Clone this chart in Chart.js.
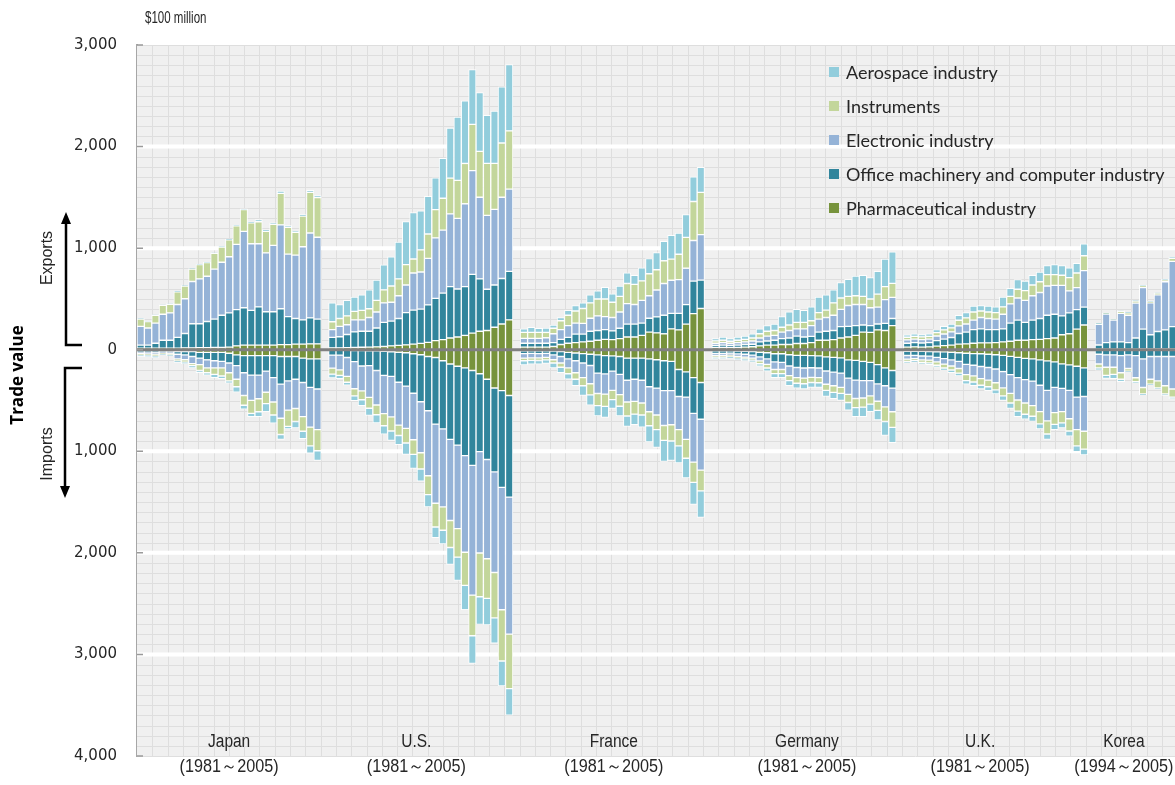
<!DOCTYPE html>
<html>
<head>
<meta charset="utf-8">
<script src="https://cdn.jsdelivr.net/npm/chart.js@4.4.1/dist/chart.umd.min.js"></script>
<style>
  html, body { margin: 0; padding: 0; background: #ffffff; overflow: hidden; }
  #wrap { width: 1175px; height: 785px; position: relative; }
</style>
</head>
<body>
<div id="wrap"><canvas id="c" width="1175" height="785"></canvas></div>
<script>
// ---------------- DATA (unit: $100 million) ----------------
const countries = ['Japan', 'U.S.', 'France', 'Germany', 'U.K.', 'Korea'];
const periods = ['(1981～2005)', '(1981～2005)', '(1981～2005)', '(1981～2005)', '(1981～2005)', '(1994～2005)'];
const seriesNames = ['Pharmaceutical industry', 'Office machinery and computer industry', 'Electronic industry', 'Instruments', 'Aerospace industry'];
const yTicks = [3000, 2000, 1000, 0, -1000, -2000, -3000, -4000];

// Exports, per country [Japan, U.S., France, Germany, U.K., Korea]
const expPharma = [
  [15,15,15,15,15,15,18,18,20,20,22,22,25,38,45,45,45,45,45,50,50,55,55,58,58],
  [18,18,20,22,24,26,28,32,38,42,48,55,62,72,90,99,115,125,141,163,182,189,221,253,294],
  [26,26,26,26,32,51,64,70,77,83,93,102,99,109,125,125,141,173,166,157,205,195,252,355,406],
  [22,22,22,22,26,29,38,45,45,51,51,61,61,70,93,93,99,115,125,141,173,170,195,189,237],
  [26,28,26,28,35,40,45,55,58,64,67,67,70,77,83,93,93,99,102,109,115,147,157,202,243],
  [6,6,6,6,6,6,8,8,8,8,8,10]
];
const expOffice = [
  [30,30,49,78,78,107,142,238,236,258,279,317,337,356,368,342,377,329,329,353,276,252,239,256,243],
  [104,110,130,154,158,156,186,237,244,265,317,335,338,370,416,458,506,473,480,579,516,406,416,448,477],
  [38,38,38,38,38,51,58,84,77,99,96,96,87,102,127,127,121,137,157,182,153,163,192,320,279],
  [20,23,20,23,25,25,39,41,48,58,64,73,64,61,80,89,90,112,105,96,70,67,58,70,70],
  [38,42,40,42,55,65,75,105,115,134,138,131,128,128,179,198,176,192,205,230,234,186,205,192,176],
  [40,64,71,71,64,109,194,139,171,187,219,240]
];
const expElec = [
  [185,169,198,256,269,323,342,416,442,445,493,522,553,643,752,656,621,580,653,826,615,624,720,835,806],
  [76,102,96,118,112,135,157,192,185,224,272,365,365,457,595,621,717,695,816,1021,803,727,745,800,810],
  [48,48,48,54,87,96,115,108,105,128,144,128,131,160,202,193,224,221,265,313,326,332,358,400,448],
  [22,25,22,25,26,32,38,48,48,64,74,71,80,106,128,135,150,170,205,208,202,176,166,234,208],
  [33,35,34,35,45,50,55,75,80,93,112,109,103,144,189,218,217,240,256,288,285,301,217,217,359],
  [205,282,214,281,269,343,409,314,362,474,643,700]
];
const expInstr = [
  [71,64,77,89,86,125,125,122,140,135,156,150,167,182,214,205,217,211,208,310,265,224,301,400,391],
  [77,77,87,84,93,86,115,128,160,167,201,138,218,240,278,313,352,374,397,455,451,512,452,534,573],
  [58,58,58,52,54,87,102,119,147,151,166,173,150,154,198,198,192,217,199,224,208,250,304,384,416],
  [23,23,19,23,25,29,42,48,48,48,54,64,64,48,64,73,122,112,90,86,80,86,128,128,138],
  [26,27,26,27,33,40,40,55,60,80,64,64,64,73,74,86,96,106,106,112,105,99,131,144,147],
  [5,4,3,19,25,20,20,11,14,20,30,35]
];
const expAero = [
  [5,5,5,5,5,5,5,5,5,5,5,5,8,8,8,10,20,15,15,22,15,12,15,20,20],
  [186,138,153,140,154,186,199,246,288,361,423,457,384,371,314,394,492,624,617,540,579,473,515,554,652],
  [35,51,41,44,32,32,48,54,55,79,80,115,83,102,105,89,128,150,169,191,233,208,224,243,246],
  [22,32,26,32,32,42,48,55,64,105,131,128,118,137,153,151,128,153,169,195,208,211,224,272,310],
  [24,25,24,25,30,35,38,49,52,58,54,58,57,96,80,96,93,96,96,90,99,96,96,96,118],
  [3,2,2,7,7,5,6,5,5,5,9,10]
];

// Imports (shown below zero), per country
const impPharma = [
  [13,13,13,8,8,19,19,19,26,26,26,26,35,51,58,58,58,58,58,67,67,67,83,90,90],
  [5,5,6,8,8,10,12,15,20,25,30,40,50,67,77,109,141,163,179,205,237,291,377,403,451],
  [10,10,10,10,13,19,26,32,38,45,51,58,61,67,83,83,83,90,99,109,115,195,218,275,323],
  [12,12,12,13,15,18,25,30,40,40,50,55,55,58,60,70,75,80,100,105,115,125,147,179,205],
  [15,15,17,18,20,22,25,30,35,38,40,45,50,55,65,75,85,90,100,110,120,140,150,163,179],
  [5,5,5,5,5,5,5,5,5,5,5,5]
];
const impOffice = [
  [9,9,10,8,10,26,32,48,57,73,83,89,96,106,169,192,192,153,217,272,240,224,240,281,297],
  [49,49,71,110,152,147,193,238,242,295,328,389,462,534,656,671,741,777,863,933,767,790,825,952,1000],
  [28,26,28,26,38,48,64,77,93,110,180,180,150,176,218,208,218,275,279,294,288,266,249,352,362],
  [25,25,22,28,30,35,45,60,80,85,110,120,125,120,120,140,145,150,180,195,190,180,190,176,173],
  [42,40,45,45,55,65,75,85,110,115,125,130,140,160,180,200,210,220,250,290,250,240,250,304,282],
  [40,46,46,53,46,53,85,62,62,62,62,70]
];
const impElec = [
  [16,18,22,16,18,45,48,71,64,80,70,64,96,134,224,249,233,208,240,336,288,288,336,391,400],
  [128,144,185,266,246,313,339,377,400,422,416,457,502,640,779,767,799,821,952,1278,997,977,991,1205,1349],
  [45,45,42,40,48,64,89,118,144,180,200,200,190,199,214,218,224,246,265,343,336,326,416,480,500],
  [22,22,20,25,28,30,40,55,75,70,95,100,100,95,95,130,135,140,160,180,170,150,170,208,233],
  [35,32,38,40,45,55,60,70,100,105,120,125,135,160,185,220,230,240,260,300,250,230,280,320,342],
  [96,122,122,169,134,218,282,224,240,288,320,340]
];
const impInstr = [
  [13,14,16,10,12,19,23,19,58,48,64,80,80,74,96,128,128,112,128,160,160,128,144,185,208],
  [58,55,58,70,87,106,96,119,138,103,144,144,160,185,233,230,266,281,326,400,431,390,447,505,537],
  [26,24,26,24,32,42,58,64,80,110,120,120,90,115,138,125,118,138,144,147,160,160,186,199,204],
  [15,15,14,16,18,20,28,35,40,40,50,55,55,50,50,60,65,60,80,90,90,80,90,144,154],
  [24,22,25,26,33,38,40,45,60,60,65,65,70,80,95,110,110,105,120,130,115,110,120,160,176],
  [38,80,70,64,26,38,64,48,70,80,80,90]
];
const impAero = [
  [16,14,20,10,12,16,16,22,22,23,32,25,23,54,39,32,48,80,80,48,26,64,74,71,96],
  [38,32,29,48,57,70,80,83,93,89,112,138,119,121,105,134,166,230,240,272,272,262,249,246,262],
  [40,38,36,34,48,54,54,64,96,102,102,108,88,96,102,105,119,160,176,208,192,167,192,217,262],
  [16,16,15,17,18,19,25,31,40,40,50,48,52,48,46,61,63,69,75,89,94,76,94,138,150],
  [15,13,16,18,20,25,27,29,34,37,37,38,40,44,54,54,50,52,51,53,52,51,51,58,58],
  [23,29,42,23,6,10,6,6,10,16,16,20]
];

// ---------------- STYLE ----------------
const colors = ['#77933C', '#31859C', '#95B3D7', '#C3D69B', '#92CDDC'];
const slotsPerCountry = 26;
const groupLabelIdx = [12, 37.4, 64.2, 90.4, 113.9, 133.4];
const narrow = "'Liberation Sans Narrow', 'Arial Narrow', 'Liberation Sans', sans-serif";

function toPoints(byCountry, sign) {
  const pts = [];
  byCountry.forEach((arr, ci) => arr.forEach((v, j) => pts.push({ x: ci * slotsPerCountry + j, y: sign * v })));
  return pts;
}
const expSeries = [expPharma, expOffice, expElec, expInstr, expAero];
const impSeries = [impPharma, impOffice, impElec, impInstr, impAero];
const datasets = [];
expSeries.forEach((s, i) => datasets.push({ label: seriesNames[i], data: toPoints(s, 1), backgroundColor: colors[i], stack: 'all' }));
impSeries.forEach((s, i) => datasets.push({ label: seriesNames[i] + ' (imports)', data: toPoints(s, -1), backgroundColor: colors[i], stack: 'all' }));

function condensedText(ctx, text, x, y, sx) {
  ctx.save();
  ctx.translate(x, y);
  ctx.scale(sx, 1);
  ctx.fillText(text, 0, 0);
  ctx.restore();
}

const decor = {
  id: 'decor',
  beforeDatasetsDraw(chart) {
    const { ctx, chartArea: a, scales: { y } } = chart;
    ctx.save();
    ctx.fillStyle = '#f0f0f0';
    ctx.fillRect(a.left, a.top, a.right - a.left, a.bottom - a.top);
    ctx.strokeStyle = '#dedede';
    ctx.lineWidth = 1;
    ctx.beginPath();
    for (let v = y.min; v <= y.max; v += 100) {
      const py = Math.round(y.getPixelForValue(v)) + 0.5;
      ctx.moveTo(a.left, py); ctx.lineTo(a.right, py);
    }
    for (let px = a.left + 15.3; px < a.right; px += 15.3) {
      const qx = Math.round(px) + 0.5;
      ctx.moveTo(qx, a.top); ctx.lineTo(qx, a.bottom);
    }
    ctx.stroke();
    ctx.strokeStyle = '#ffffff';
    ctx.lineWidth = 4;
    ctx.beginPath();
    yTicks.forEach(v => {
      if (v === y.max || v === y.min || v === 0) return;
      const py = y.getPixelForValue(v);
      ctx.moveTo(a.left, py); ctx.lineTo(a.right, py);
    });
    ctx.stroke();
    ctx.restore();
  },
  afterDatasetsDraw(chart) {
    const { ctx, chartArea: a, scales: { y } } = chart;
    ctx.save();
    ctx.strokeStyle = '#808080';
    ctx.lineWidth = 3;
    ctx.beginPath();
    const p0 = y.getPixelForValue(0);
    ctx.moveTo(a.left, p0); ctx.lineTo(a.right, p0);
    ctx.stroke();
    ctx.strokeStyle = '#9a9a9a';
    ctx.lineWidth = 1.5;
    ctx.beginPath();
    yTicks.forEach(v => {
      const py = y.getPixelForValue(v);
      ctx.moveTo(a.left, py); ctx.lineTo(a.left + 6, py);
    });
    ctx.stroke();
    ctx.restore();
  },
  afterDraw(chart) {
    const { ctx, scales: { x } } = chart;
    ctx.save();
    // unit
    ctx.fillStyle = '#262626';
    ctx.font = '16px ' + narrow;
    ctx.textAlign = 'left';
    ctx.textBaseline = 'middle';
    condensedText(ctx, '$100 million', 145, 19, 0.72);
    // group labels
    ctx.textAlign = 'center';
    ctx.font = '18px ' + narrow;
    countries.forEach((c, i) => {
      const cx = x.getPixelForValue(groupLabelIdx[i]);
      condensedText(ctx, c, cx, 742, 0.86);
      condensedText(ctx, periods[i], cx, 767, 0.9);
    });
    // legend
    const order = [4, 3, 2, 1, 0];
    ctx.textAlign = 'left';
    ctx.font = '18px Lato, sans-serif';
    order.forEach((si, r) => {
      const cy = 72 + r * 34;
      ctx.fillStyle = colors[si];
      ctx.fillRect(829, cy - 5, 10, 10);
      ctx.fillStyle = '#262626';
      ctx.fillText(seriesNames[si], 846, cy + 1);
    });
    // axis title
    ctx.save();
    ctx.translate(18, 375);
    ctx.rotate(-Math.PI / 2);
    ctx.textAlign = 'center';
    ctx.font = "bold 17px 'Open Sans', sans-serif";
    ctx.fillStyle = '#000000';
    ctx.fillText('Trade value', 0, 0);
    ctx.restore();
    // Exports / Imports
    ctx.font = '16px ' + narrow;
    ctx.fillStyle = '#262626';
    [['Exports', 258], ['Imports', 454]].forEach(([t, cy]) => {
      ctx.save();
      ctx.translate(48, cy);
      ctx.rotate(-Math.PI / 2);
      ctx.textAlign = 'center';
      ctx.fillText(t, 0, 0, 58);
      ctx.restore();
    });
    // arrows
    ctx.strokeStyle = '#000000';
    ctx.fillStyle = '#000000';
    ctx.lineWidth = 2.5;
    ctx.beginPath();
    ctx.moveTo(82, 345); ctx.lineTo(66, 345); ctx.lineTo(66, 222);
    ctx.moveTo(82, 368); ctx.lineTo(65, 368); ctx.lineTo(65, 488);
    ctx.stroke();
    ctx.beginPath();
    ctx.moveTo(66, 212); ctx.lineTo(61, 224); ctx.lineTo(71, 224); ctx.closePath();
    ctx.moveTo(65, 498); ctx.lineTo(60, 486); ctx.lineTo(70, 486); ctx.closePath();
    ctx.fill();
    ctx.restore();
  }
};

new Chart(document.getElementById('c'), {
  type: 'bar',
  data: { datasets },
  options: {
    responsive: false,
    animation: false,
    devicePixelRatio: 1,
    layout: { padding: { top: 45, bottom: 9, left: 0, right: 0 } },
    datasets: { bar: { barPercentage: 1, categoryPercentage: 1, borderColor: 'rgba(255,255,255,0.9)', borderWidth: 1, borderSkipped: false } },
    plugins: { legend: { display: false }, tooltip: { enabled: false } },
    scales: {
      x: { type: 'linear', min: -0.5, max: 140.34, display: false, stacked: true, offset: false },
      y: {
        stacked: true, min: -4000, max: 3000,
        afterFit(s) { s.width = 137; },
        grid: { display: false, drawTicks: false },
        border: { display: true, color: '#a6a6a6', width: 2 },
        ticks: {
          stepSize: 1000, padding: 20, color: '#262626',
          font: { family: "'DejaVu Sans', Verdana, sans-serif", size: 15 },
          callback: v => Math.abs(v).toLocaleString('en-US')
        }
      }
    }
  },
  plugins: [decor]
});
</script>
</body>
</html>
